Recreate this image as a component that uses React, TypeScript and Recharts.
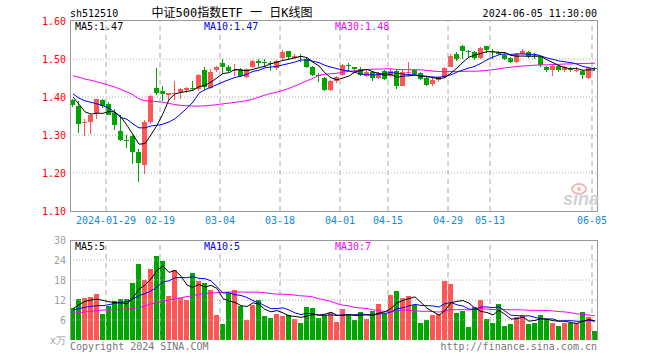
import React from 'react';
import { ComposedChart, Bar, Line, XAxis, YAxis, ReferenceLine } from 'recharts';

// trading days shown on the chart (2024-01-19 .. 2024-06-05)
const dates = [
  '2024-01-19', '2024-01-22', '2024-01-23', '2024-01-24', '2024-01-25', '2024-01-26', '2024-01-29', '2024-01-30', '2024-01-31',
  '2024-02-01', '2024-02-02', '2024-02-05', '2024-02-06', '2024-02-07', '2024-02-08', '2024-02-19', '2024-02-20', '2024-02-21',
  '2024-02-22', '2024-02-23', '2024-02-26', '2024-02-27', '2024-02-28', '2024-02-29',
  '2024-03-01', '2024-03-04', '2024-03-05', '2024-03-06', '2024-03-07', '2024-03-08', '2024-03-11', '2024-03-12', '2024-03-13',
  '2024-03-14', '2024-03-15', '2024-03-18', '2024-03-19', '2024-03-20', '2024-03-21', '2024-03-22', '2024-03-25', '2024-03-26',
  '2024-03-27', '2024-03-28', '2024-03-29',
  '2024-04-01', '2024-04-02', '2024-04-03', '2024-04-08', '2024-04-09', '2024-04-10', '2024-04-11', '2024-04-12', '2024-04-15',
  '2024-04-16', '2024-04-17', '2024-04-18', '2024-04-19', '2024-04-22', '2024-04-23', '2024-04-24', '2024-04-25', '2024-04-26',
  '2024-04-29', '2024-04-30',
  '2024-05-06', '2024-05-07', '2024-05-08', '2024-05-09', '2024-05-10', '2024-05-13', '2024-05-14', '2024-05-15', '2024-05-16',
  '2024-05-17', '2024-05-20', '2024-05-21', '2024-05-22', '2024-05-23', '2024-05-24', '2024-05-27', '2024-05-28', '2024-05-29',
  '2024-05-30', '2024-05-31',
  '2024-06-03', '2024-06-04', '2024-06-05',
];

const opens = [
  1.392, 1.376, 1.331, 1.333, 1.357, 1.392, 1.381, 1.357, 1.311, 1.287,
  1.297, 1.255, 1.220, 1.335, 1.424, 1.415, 1.404, 1.407, 1.413, 1.418,
  1.423, 1.420, 1.470, 1.424, 1.471, 1.490, 1.478, 1.468, 1.473, 1.452,
  1.478, 1.496, 1.492, 1.490, 1.477, 1.502, 1.521, 1.502, 1.508, 1.500,
  1.479, 1.457, 1.449, 1.419, 1.442, 1.457, 1.483, 1.478, 1.473, 1.456,
  1.466, 1.450, 1.469, 1.454, 1.468, 1.430, 1.463, 1.470, 1.462, 1.450,
  1.435, 1.446, 1.453, 1.480, 1.513, 1.534, 1.521, 1.518, 1.502, 1.534,
  1.521, 1.519, 1.511, 1.503, 1.492, 1.514, 1.518, 1.509, 1.504, 1.479,
  1.472, 1.482, 1.470, 1.473, 1.470, 1.468, 1.449, 1.476,
];
const highs = [
  1.396, 1.390, 1.341, 1.355, 1.396, 1.396, 1.386, 1.368, 1.352, 1.301,
  1.300, 1.262, 1.339, 1.405, 1.476, 1.430, 1.411, 1.443, 1.424, 1.427,
  1.443, 1.461, 1.479, 1.475, 1.482, 1.500, 1.483, 1.488, 1.477, 1.476,
  1.497, 1.500, 1.500, 1.496, 1.498, 1.525, 1.521, 1.512, 1.512, 1.503,
  1.482, 1.463, 1.452, 1.446, 1.455, 1.488, 1.489, 1.480, 1.480, 1.470,
  1.468, 1.465, 1.472, 1.474, 1.470, 1.470, 1.491, 1.473, 1.465, 1.453,
  1.450, 1.456, 1.478, 1.512, 1.518, 1.536, 1.525, 1.520, 1.532, 1.535,
  1.527, 1.522, 1.514, 1.506, 1.516, 1.527, 1.520, 1.515, 1.506, 1.482,
  1.484, 1.485, 1.481, 1.478, 1.478, 1.470, 1.480, 1.480,
];
const lows = [
  1.374, 1.306, 1.297, 1.303, 1.343, 1.370, 1.352, 1.313, 1.283, 1.266,
  1.224, 1.176, 1.197, 1.328, 1.404, 1.389, 1.392, 1.392, 1.396, 1.410,
  1.418, 1.417, 1.418, 1.420, 1.466, 1.462, 1.465, 1.455, 1.452, 1.450,
  1.476, 1.478, 1.478, 1.468, 1.470, 1.495, 1.500, 1.500, 1.492, 1.477,
  1.455, 1.440, 1.416, 1.417, 1.438, 1.455, 1.469, 1.465, 1.455, 1.452,
  1.442, 1.447, 1.445, 1.452, 1.422, 1.428, 1.456, 1.457, 1.445, 1.428,
  1.428, 1.440, 1.450, 1.478, 1.494, 1.499, 1.505, 1.497, 1.500, 1.515,
  1.500, 1.510, 1.497, 1.489, 1.490, 1.512, 1.502, 1.500, 1.478, 1.466,
  1.456, 1.467, 1.466, 1.466, 1.465, 1.448, 1.447, 1.471,
];
const closes = [
  1.378, 1.329, 1.333, 1.353, 1.394, 1.376, 1.353, 1.326, 1.287, 1.285,
  1.255, 1.226, 1.334, 1.403, 1.410, 1.408, 1.410, 1.410, 1.422, 1.425,
  1.421, 1.458, 1.426, 1.467, 1.480, 1.478, 1.469, 1.470, 1.455, 1.474,
  1.496, 1.490, 1.490, 1.488, 1.495, 1.519, 1.505, 1.509, 1.506, 1.480,
  1.458, 1.455, 1.418, 1.442, 1.452, 1.483, 1.481, 1.473, 1.459, 1.467,
  1.451, 1.462, 1.448, 1.469, 1.428, 1.467, 1.466, 1.461, 1.448, 1.432,
  1.446, 1.453, 1.476, 1.508, 1.499, 1.522, 1.520, 1.503, 1.529, 1.523,
  1.518, 1.514, 1.500, 1.492, 1.513, 1.520, 1.509, 1.507, 1.484, 1.470,
  1.482, 1.470, 1.479, 1.471, 1.472, 1.459, 1.477, 1.474,
];
// volume, in 万
const volumes = [
  9.6, 12.3, 12.6, 12.9, 13.8, 7.8, 10.2, 11.6, 12.3, 12.3,
  17.1, 22.8, 18.0, 21.3, 25.2, 23.7, 13.2, 21.0, 12.6, 12.0,
  20.1, 17.7, 17.1, 15.0, 7.5, 4.8, 14.1, 15.0, 10.2, 6.0,
  10.5, 12.0, 7.2, 6.6, 7.8, 7.2, 7.5, 6.3, 5.1, 9.9,
  9.6, 6.6, 7.5, 8.1, 5.4, 9.4, 7.8, 6.0, 8.4, 6.4,
  8.8, 10.8, 7.8, 13.5, 14.8, 12.6, 13.2, 10.6, 5.1, 6.1,
  7.6, 7.8, 17.7, 16.8, 8.1, 8.8, 4.0, 10.0, 12.0, 6.4,
  5.2, 10.8, 4.2, 4.8, 7.0, 7.5, 4.8, 5.2, 7.5, 6.2,
  5.2, 4.2, 5.2, 5.2, 5.0, 8.4, 7.0, 2.8,
];

const ma5Head = [1.400, 1.381, 1.361, 1.355];
const ma10Head = [1.408, 1.397, 1.390, 1.386, 1.382, 1.377, 1.371, 1.359, 1.346];
const ma30Head = [
  1.456, 1.452, 1.447, 1.444, 1.440, 1.436, 1.431, 1.426, 1.420, 1.413,
  1.406, 1.395, 1.390, 1.389, 1.388, 1.386, 1.383, 1.380, 1.378, 1.377,
  1.376, 1.376, 1.377, 1.378, 1.380, 1.382, 1.384, 1.386, 1.388,
];
const volMa5Head = [9.4, 10.6, 11.6, 12.0];
const volMa10Head = [9.0, 9.4, 9.8, 10.1, 10.3, 10.3, 10.6, 11.0, 11.3];
const volMa30Head = [
  8.0, 8.2, 8.4, 8.6, 8.8, 9.0, 9.0, 9.1, 9.2, 9.3,
  9.4, 9.7, 10.2, 10.8, 11.2, 11.7, 12.0, 12.3, 12.7, 13.0,
  13.3, 13.7, 13.9, 14.1, 14.2, 14.3, 14.4, 14.4, 14.4,
];

const tickDates = ['2024-01-29', '2024-02-19', '2024-03-04', '2024-03-18', '2024-04-01', '2024-04-15', '2024-04-29', '2024-05-13', '2024-06-05'];
const tickLabels = ['2024-01-29', '02-19', '03-04', '03-18', '04-01', '04-15', '04-29', '05-13', '06-05'];
const priceTicks = [1.1, 1.2, 1.3, 1.4, 1.5, 1.6];
const volTicks = [0, 6, 12, 18, 24, 30];

const RED = '#ff5555';
const GREEN = '#00a600';
const GRID = '#aaaaaa';
const FRAME = '#999999';
const MONO = '"DejaVu Sans Mono", monospace';

function movingAvg(values: number[], n: number, head: number[]) {
  return values.map((_, i) => {
    if (i < head.length) return head[i];
    const win = values.slice(i - n + 1, i + 1);
    return win.reduce((a, b) => a + b, 0) / n;
  });
}

const ma5 = movingAvg(closes, 5, ma5Head);
const ma10 = movingAvg(closes, 10, ma10Head);
const ma30 = movingAvg(closes, 30, ma30Head);
const vma5 = movingAvg(volumes, 5, volMa5Head);
const vma10 = movingAvg(volumes, 10, volMa10Head);
const vma30 = movingAvg(volumes, 30, volMa30Head);

const data = dates.map((d, i) => ({
  date: d,
  x: i + 0.5,
  open: opens[i],
  high: highs[i],
  low: lows[i],
  close: closes[i],
  range: [lows[i], highs[i]],
  vol: volumes[i],
  up: closes[i] >= opens[i],
  ma5: ma5[i],
  ma10: ma10[i],
  ma30: ma30[i],
  vma5: vma5[i],
  vma10: vma10[i],
  vma30: vma30[i],
}));

const tickIdx = tickDates.map((d) => dates.indexOf(d));
const tickText = (v: number) => tickLabels[tickIdx.indexOf(v)] ?? '';

const Candle = (props: any) => {
  const { x, y, width, height, payload } = props;
  if (x == null || y == null || !payload) return null;
  const top = Math.min(y, y + height);
  const h = Math.abs(height);
  const { open, close, high, low } = payload;
  const px = (v: number) => (high === low ? top : top + ((high - v) / (high - low)) * h);
  const cx = Math.round(x + width / 2);
  const color = close >= open ? RED : GREEN;
  const bTop = px(Math.max(open, close));
  const bBot = px(Math.min(open, close));
  return (
    <g shapeRendering="crispEdges">
      <rect x={cx - 1} y={top} width={1} height={Math.max(h, 1)} fill={color} />
      <rect x={cx - 3} y={bTop} width={5} height={Math.max(bBot - bTop, 1)} fill={color} />
    </g>
  );
};

const VolBar = (props: any) => {
  const { x, y, width, height, payload } = props;
  if (x == null || y == null || !payload) return null;
  const cx = Math.round(x + width / 2);
  return (
    <rect
      x={cx - 3}
      y={Math.min(y, y + height)}
      width={5}
      height={Math.abs(height)}
      fill={payload.up ? RED : GREEN}
      shapeRendering="crispEdges"
    />
  );
};

const vLines = (key: string) =>
  tickIdx.map((k) => (
    <ReferenceLine key={key + k} x={k} stroke={GRID} strokeDasharray="5 4" ifOverflow="extendDomain" />
  ));

export default function App() {
  return (
    <div style={{ position: 'absolute', left: 0, top: 0, width: 660, height: 360, background: '#fff', overflow: 'hidden' }}>
      <ComposedChart
        width={660}
        height={240}
        data={data}
        margin={{ top: 21, right: 62, bottom: 4, left: 0 }}
        style={{ position: 'absolute', left: 0, top: 0 }}
      >
        <XAxis
          dataKey="x"
          type="number"
          domain={[0, 88]}
          ticks={tickIdx}
          tickFormatter={tickText}
          axisLine={false}
          tickLine={false}
          tickSize={6}
          tickMargin={0}
          height={25}
          interval={0}
          tick={{ fill: '#1588d6', fontSize: 10, fontFamily: MONO }}
        />
        <YAxis
          type="number"
          domain={[1.1, 1.6]}
          ticks={priceTicks}
          tickFormatter={(v: number) => v.toFixed(2)}
          axisLine={false}
          tickLine={false}
          tickSize={4}
          tickMargin={0}
          width={70}
          interval={0}
          tick={{ fill: '#ff0000', fontSize: 10, fontFamily: MONO }}
        />
        {[1.2, 1.3, 1.4, 1.5].map((v) => (
          <ReferenceLine key={'h' + v} y={v} stroke={GRID} strokeDasharray="1 2" />
        ))}
        {vLines('p')}
        <Bar dataKey="range" barSize={6} shape={<Candle />} isAnimationActive={false} />
        <Line dataKey="ma30" type="linear" stroke="#ff00ff" strokeWidth={1} dot={false} isAnimationActive={false} />
        <Line dataKey="ma10" type="linear" stroke="#0000ff" strokeWidth={1} dot={false} isAnimationActive={false} />
        <Line dataKey="ma5" type="linear" stroke="#000000" strokeWidth={1} dot={false} isAnimationActive={false} />
      </ComposedChart>

      <ComposedChart
        width={660}
        height={130}
        data={data}
        margin={{ top: 10, right: 62, bottom: 20, left: 0 }}
        style={{ position: 'absolute', left: 0, top: 230 }}
      >
        <XAxis dataKey="x" type="number" domain={[0, 88]} ticks={tickIdx} hide />
        <YAxis
          type="number"
          domain={[0, 30]}
          ticks={volTicks}
          tickFormatter={(v: number) => (v === 0 ? 'x万' : String(v))}
          axisLine={false}
          tickLine={false}
          tickSize={4}
          tickMargin={0}
          width={70}
          interval={0}
          tick={{ fill: '#a0a0a0', fontSize: 10, fontFamily: MONO }}
        />
        {[6, 12, 18, 24].map((v) => (
          <ReferenceLine key={'vh' + v} y={v} stroke={GRID} strokeDasharray="1 2" />
        ))}
        {vLines('v')}
        <Bar dataKey="vol" barSize={6} shape={<VolBar />} isAnimationActive={false} />
        <Line dataKey="vma30" type="linear" stroke="#ff00ff" strokeWidth={1} dot={false} isAnimationActive={false} />
        <Line dataKey="vma10" type="linear" stroke="#0000ff" strokeWidth={1} dot={false} isAnimationActive={false} />
        <Line dataKey="vma5" type="linear" stroke="#000000" strokeWidth={1} dot={false} isAnimationActive={false} />
      </ComposedChart>

      <svg width={660} height={360} style={{ position: 'absolute', left: 0, top: 0, pointerEvents: 'none' }}>
        <g fill="none" stroke={FRAME} strokeWidth={1} shapeRendering="crispEdges">
          <rect x={70.5} y={20.5} width={527} height={190.5} />
          <path d="M70.5 340 V240.5 H597.5 V340" />
        </g>
        <g fontFamily={MONO} fontSize={10} dominantBaseline="central">
          <text x={70} y={13} fill="#000">sh512510</text>
          <text x={597} y={13} fill="#000" textAnchor="end">2024-06-05 11:30:00</text>
          <text x={75} y={26} fill="#000">MA5:1.47</text>
          <text x={204} y={26} fill="#0000ff">MA10:1.47</text>
          <text x={335} y={26} fill="#ff00ff">MA30:1.48</text>
          <text x={75} y={246} fill="#000">MA5:5</text>
          <text x={204} y={246} fill="#0000ff">MA10:5</text>
          <text x={335} y={246} fill="#ff00ff">MA30:7</text>
          <text x={70} y={346} fill="#777">Copyright 2024 SINA.COM</text>
          <text x={597} y={346} fill="#777" textAnchor="end">http://finance.sina.com.cn</text>
        </g>
        <text
          x={232}
          y={13}
          fill="#000"
          fontSize={12}
          textAnchor="middle"
          dominantBaseline="central"
          fontFamily={'"DejaVu Sans Mono", "Noto Sans CJK SC", monospace'}
        >
          中证500指数ETF 一 日K线图
        </text>
        <g opacity={0.8}>
          <ellipse cx={579} cy={189} rx={7} ry={5} fill="none" stroke="#f2a3a3" strokeWidth={2} />
          <circle cx={579} cy={189} r={2} fill="#f2a3a3" />
          <text x={581} y={205} fill="#c8c8c8" fontSize={18} fontWeight="bold" fontStyle="italic" textAnchor="middle" fontFamily="Liberation Sans, sans-serif">
            sina
          </text>
        </g>
      </svg>
    </div>
  );
}
